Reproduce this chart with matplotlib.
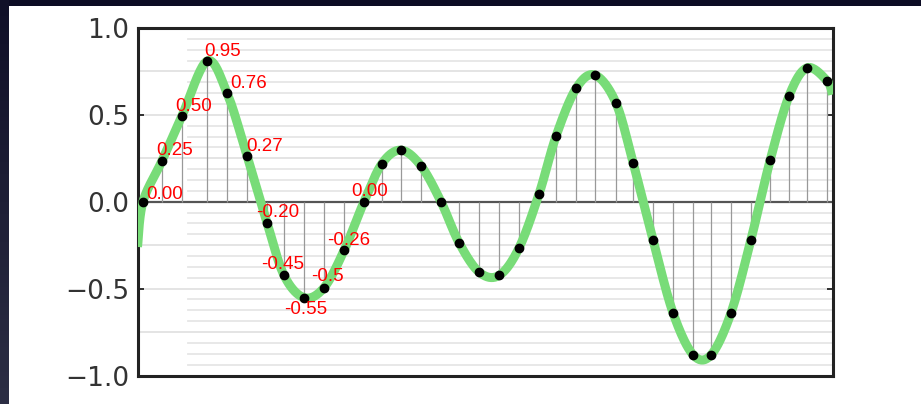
import numpy as np
import matplotlib
matplotlib.use("Agg")
import matplotlib.pyplot as plt
from matplotlib.patches import Rectangle

# sample positions (in sample steps) and values of the dots
dot_x = [0, 0.97, 2.0, 3.28, 4.30, 5.32, 6.35, 7.22, 8.24, 9.26, 10.29, 11.31,
         12.23, 13.2, 14.23, 15.25, 16.17, 17.2, 18.22, 19.24, 20.27, 21.14,
         22.16, 23.13, 24.2, 25.08, 26.1, 27.12, 28.15, 29.07, 30.09, 31.1,
         32.09, 33.06, 33.98, 35.0]
dot_y = [0.0, 0.235, 0.495, 0.81, 0.627, 0.266, -0.122, -0.424, -0.552, -0.495,
         -0.28, 0.0, 0.22, 0.297, 0.206, 0.0, -0.235, -0.405, -0.424, -0.266,
         0.047, 0.379, 0.652, 0.729, 0.569, 0.224, -0.222, -0.639, -0.881,
         -0.881, -0.639, -0.222, 0.239, 0.61, 0.771, 0.696]

# green curve runs through the dots and continues to both edges
curve_x = [-0.28] + dot_x + [35.28]
curve_y = [-0.26] + dot_y + [0.617]

# red text labels (index of dot, text)
label_idx = [0, 1, 2, 3, 4, 5, 6, 7, 8, 9, 10, 11]
label_txt = ["0.00", "0.25", "0.50", "0.95", "0.76", "0.27",
             "-0.20", "-0.45", "-0.55", "-0.5", "-0.26", "0.00"]
label_off = [(3, 3), (-6, 6), (-7, 5), (-3, 5), (3, 5), (-1, 5),
             (-11, 6), (-23, 6), (-20, -16), (-13, 7), (-17, 5), (-13, 6)]

yticks = [-1.0, -0.5, 0.0, 0.5, 1.0]
ytick_labels = ["\u22121.0", "\u22120.5", "0.0", "0.5", "1.0"]


def catmull_rom(xs, ys, n=20):
    px = np.array([xs[0]] + list(xs) + [xs[-1]], dtype=float)
    py = np.array([ys[0]] + list(ys) + [ys[-1]], dtype=float)
    t = np.linspace(0, 1, n, endpoint=False)
    outx, outy = [], []
    for i in range(1, len(px) - 2):
        for p, out in ((px, outx), (py, outy)):
            p0, p1, p2, p3 = p[i - 1], p[i], p[i + 1], p[i + 2]
            out.extend(0.5 * (2 * p1 + (-p0 + p2) * t
                              + (2 * p0 - 5 * p1 + 4 * p2 - p3) * t ** 2
                              + (-p0 + 3 * p1 - 3 * p2 + p3) * t ** 3))
    outx.append(xs[-1])
    outy.append(ys[-1])
    return np.array(outx), np.array(outy)


fig = plt.figure(figsize=(9.21, 4.04), dpi=100)
fig.patch.set_facecolor("#0c0c24")

# left dark strip with a slight gradient
strip = fig.add_axes([0, 0, 8 / 921, 1])
grad = np.linspace(0, 1, 100).reshape(-1, 1)
strip.imshow(grad, aspect="auto", cmap=matplotlib.colors.LinearSegmentedColormap.from_list(
    "s", ["#101028", "#2c2e44"]), extent=[0, 1, 0, 1], origin="upper")
strip.axis("off")
fig.add_artist(Rectangle((8 / 921, 0), 1, (404 - 6) / 404, transform=fig.transFigure,
                         facecolor="white", edgecolor="none", zorder=-5))

ax = fig.add_axes([137.5 / 921, 28.5 / 404, 695 / 921, 347.5 / 404])
ax.set_facecolor("white")
ax.set_xlim(-0.28, 35.28)
ax.set_ylim(-1.0, 1.0)

# horizontal guide lines
x_start = (188 - 137.5) / 695
for k in range(-15, 16):
    v = k / 16
    if k == 0:
        continue
    if k % 4 == 0:
        ax.axhline(v, color="#e2e2e2", lw=1.3, zorder=1)
    else:
        ax.axhline(v, xmin=x_start, xmax=1, color="#e6e6e6", lw=1.3, zorder=1)

ax.axhline(0, color="#555555", lw=1.6, zorder=2)
ax.vlines(dot_x, 0, dot_y, color="#999999", lw=0.9, zorder=2)

cx, cy = catmull_rom(curve_x, curve_y)
ax.plot(cx, cy, color="#78dc78", lw=6.5, solid_capstyle="butt", zorder=3)
ax.plot(dot_x, dot_y, "o", color="black", ms=6, zorder=4)

for i, txt, off in zip(label_idx, label_txt, label_off):
    ax.annotate(txt, (dot_x[i], dot_y[i]), xytext=off, textcoords="offset pixels",
                ha="left", va="baseline", color="red", fontsize=13.5,
                family="Liberation Sans", zorder=5)

ax.set_xticks([])
ax.set_yticks(yticks)
ax.set_yticklabels(ytick_labels)
ax.tick_params(axis="y", direction="in", length=4, width=1.3, colors="#222222",
               labelsize=19, labelcolor="#333333", pad=6, right=True)
for s in ax.spines.values():
    s.set_linewidth(2.2)
    s.set_color("#222222")

fig.savefig("out.png", dpi=100, facecolor=fig.get_facecolor())
